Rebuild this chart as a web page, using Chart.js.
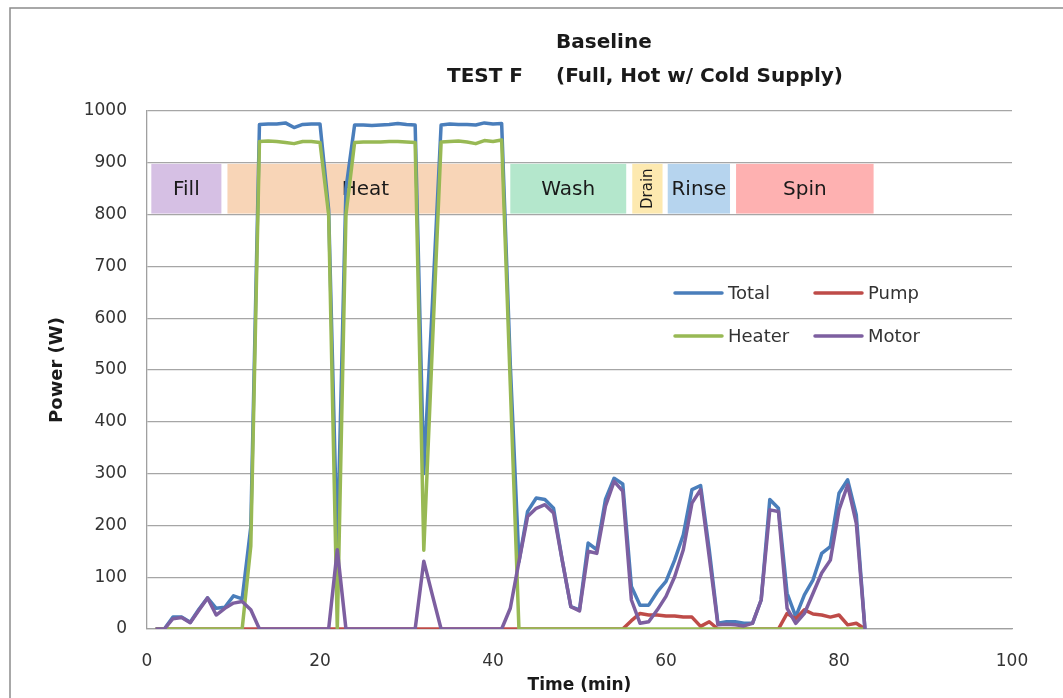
<!DOCTYPE html>
<html>
<head>
<meta charset="utf-8">
<script src="https://cdn.jsdelivr.net/npm/chart.js@4"></script>
<style>
  html, body { margin: 0; padding: 0; background: #fff; overflow: hidden; }
  #wrap { position: relative; width: 1063px; height: 698px; }
</style>
</head>
<body>
<div id="wrap"><canvas id="chart"></canvas></div>
<script>
// time in minutes
const times = [
  1, 2, 3, 4, 5, 6, 7, 8, 9, 10, 11, 12, 13, 14, 15, 16, 17, 18, 19, 20,
  21, 22, 23, 24, 25, 26, 27, 28, 29, 30, 31, 32, 33, 34, 35, 36, 37, 38, 39, 40,
  41, 42, 43, 44, 45, 46, 47, 48, 49, 50, 51, 52, 53, 54, 55, 56, 57, 58, 59, 60,
  61, 62, 63, 64, 65, 66, 67, 68, 69, 70, 71, 72, 73, 74, 75, 76, 77, 78, 79, 80,
  81, 82, 83
];

const total = [
  0, 0, 23, 23, 13, 38, 60, 40, 42, 64, 58, 197, 974, 975, 975, 977, 968, 974, 975, 975,
  810, 153, 850, 973, 973, 972, 973, 974, 976, 974, 973, 300, 630, 973, 975, 974, 974, 973, 977, 975,
  976, 510, 130, 227, 253, 250, 233, 133, 43, 37, 166, 153, 250, 291, 280, 82, 46, 46, 72, 92,
  133, 182, 269, 277, 153, 11, 14, 14, 11, 11, 56, 250, 233, 69, 24, 66, 95, 146, 159, 262,
  288, 220, 0
];

const pump = [
  0, 0, 0, 0, 0, 0, 0, 0, 0, 0, 0, 0, 0, 0, 0, 0, 0, 0, 0, 0,
  0, 0, 0, 0, 0, 0, 0, 0, 0, 0, 0, 0, 0, 0, 0, 0, 0, 0, 0, 0,
  0, 0, 0, 0, 0, 0, 0, 0, 0, 0, 0, 0, 0, 0, 0, 16, 30, 27, 27, 25,
  25, 23, 23, 5, 14, 0, 0, 0, 0, 0, 0, 0, 0, 30, 20, 37, 29, 27, 23, 27,
  8, 11, 0
];

const heater = [
  0, 0, 0, 0, 0, 0, 0, 0, 0, 0, 0, 160, 941, 942, 941, 939, 937, 941, 941, 939,
  800, 0, 800, 939, 940, 940, 940, 941, 941, 940, 939, 152, 550, 940, 941, 942, 940, 937, 943, 941,
  944, 470, 0, 0, 0, 0, 0, 0, 0, 0, 0, 0, 0, 0, 0, 0, 0, 0, 0, 0,
  0, 0, 0, 0, 0, 0, 0, 0, 0, 0, 0, 0, 0, 0, 0, 0, 0, 0, 0, 0,
  0, 0, 0
];

const motor = [
  0, 0, 20, 22, 12, 36, 60, 27, 40, 50, 53, 37, 0, 0, 0, 0, 0, 0, 0, 0,
  0, 153, 0, 0, 0, 0, 0, 0, 0, 0, 0, 131, 65, 0, 0, 0, 0, 0, 0, 0,
  0, 40, 130, 217, 233, 240, 224, 133, 43, 35, 150, 146, 237, 285, 266, 56, 11, 14, 37, 63,
  101, 153, 243, 269, 139, 8, 9, 8, 6, 11, 56, 230, 227, 40, 11, 30, 69, 108, 133, 230,
  278, 204, 0
];

// cycle phases (minutes)
const phaseNames = ["Fill", "Heat", "Wash", "Drain", "Rinse", "Spin"];
const phaseStart = [0.5, 9.3, 42.0, 56.1, 60.2, 68.1];
const phaseEnd = [8.6, 41.2, 55.4, 59.6, 67.4, 84.0];
const phaseColors = ["#d6c0e4", "#f8d5b7", "#b4e7cc", "#fde9b0", "#b6d4ee", "#feb1b1"];
const phaseLow = 802;
const phaseHigh = 898;

const xTicks = [0, 20, 40, 60, 80, 100];

const FONT = "'DejaVu Sans', sans-serif";
const TEXT = "#333333";

function pts(values) {
  return times.map((t, i) => ({ x: t, y: values[i] }));
}

// frame + background
const framePlugin = {
  id: "frame",
  beforeDraw(chart) {
    const ctx = chart.ctx;
    ctx.save();
    ctx.fillStyle = "#ffffff";
    ctx.fillRect(0, 0, chart.width, chart.height);
    ctx.strokeStyle = "#8c8c8c";
    ctx.lineWidth = 1.5;
    ctx.beginPath();
    ctx.moveTo(10, chart.height + 2);
    ctx.lineTo(10, 8);
    ctx.lineTo(chart.width + 2, 8);
    ctx.stroke();
    ctx.restore();
  }
};

// two-line title, second line tab aligned
const titlePlugin = {
  id: "titles",
  afterDraw(chart) {
    const ctx = chart.ctx;
    ctx.save();
    ctx.fillStyle = "#1a1a1a";
    ctx.font = "bold 20px " + FONT;
    ctx.textBaseline = "middle";
    ctx.textAlign = "left";
    ctx.fillText("Baseline", 556, 43);
    ctx.fillText("(Full, Hot w/ Cold Supply)", 556, 77);
    ctx.textAlign = "right";
    ctx.fillText("TEST F", 523, 77);
    ctx.restore();
  }
};

// phase boxes between 800 and 900 W
const phasePlugin = {
  id: "phases",
  beforeDatasetsDraw(chart) {
    const { ctx, scales: { x, y } } = chart;
    const top = y.getPixelForValue(phaseHigh);
    const bottom = y.getPixelForValue(phaseLow);
    ctx.save();
    phaseNames.forEach((name, i) => {
      const left = x.getPixelForValue(phaseStart[i]);
      const right = x.getPixelForValue(phaseEnd[i]);
      ctx.fillStyle = phaseColors[i];
      ctx.fillRect(left, top, right - left, bottom - top);
      ctx.fillStyle = "#1a1a1a";
      ctx.textAlign = "center";
      ctx.textBaseline = "middle";
      const cx = (left + right) / 2;
      const cy = (top + bottom) / 2;
      if (name === "Drain") {
        ctx.save();
        ctx.translate(cx, cy);
        ctx.rotate(-Math.PI / 2);
        ctx.font = "15px " + FONT;
        ctx.fillText(name, 0, 1);
        ctx.restore();
      } else {
        ctx.font = "20px " + FONT;
        ctx.fillText(name, cx, cy + 1);
      }
    });
    ctx.restore();
  }
};

// legend in two columns inside the plot
const legendPlugin = {
  id: "gridLegend",
  afterDatasetsDraw(chart) {
    const ctx = chart.ctx;
    const cols = [675, 815];
    const rows = [293, 336];
    const layout = [[0, 0, 0], [1, 1, 0], [2, 0, 1], [3, 1, 1]];
    ctx.save();
    ctx.font = "18px " + FONT;
    ctx.textBaseline = "middle";
    ctx.textAlign = "left";
    layout.forEach(([di, c, r]) => {
      const ds = chart.data.datasets[di];
      const lx = cols[c];
      const ly = rows[r];
      ctx.strokeStyle = ds.borderColor;
      ctx.lineWidth = 3.5;
      ctx.lineCap = "round";
      ctx.beginPath();
      ctx.moveTo(lx, ly);
      ctx.lineTo(lx + 47, ly);
      ctx.stroke();
      ctx.fillStyle = TEXT;
      ctx.fillText(ds.label, lx + 53, ly + 1);
    });
    ctx.restore();
  }
};

const mkSet = (label, data, color, order) => ({
  label: label,
  data: pts(data),
  borderColor: color,
  backgroundColor: color,
  borderWidth: 3.5,
  pointRadius: 0,
  tension: 0,
  fill: false,
  order: order,
  borderJoinStyle: "round"
});

new Chart(document.getElementById("chart"), {
  type: "line",
  data: {
    datasets: [
      mkSet("Total", total, "#4a7ebb", 4),
      mkSet("Pump", pump, "#be4b48", 3),
      mkSet("Heater", heater, "#98b954", 2),
      mkSet("Motor", motor, "#7d5fa0", 1)
    ]
  },
  options: {
    responsive: true,
    maintainAspectRatio: false,
    animation: false,
    layout: { padding: { left: 0, right: 51, top: 111, bottom: 0 } },
    plugins: {
      legend: { display: false },
      tooltip: { enabled: false },
      title: { display: false }
    },
    scales: {
      x: {
        type: "linear",
        min: 0,
        max: 100,
        afterFit(scale) { scale.height = 69; },
        afterBuildTicks(scale) { scale.ticks = xTicks.map(v => ({ value: v })); },
        grid: { display: false, drawTicks: false },
        border: { display: true, color: "#a0a0a0", width: 1.3 },
        ticks: {
          padding: 22,
          color: TEXT,
          font: { family: FONT, size: 17 },
          callback: v => String(v)
        },
        title: {
          display: true,
          text: "Time (min)",
          color: "#1a1a1a",
          font: { family: FONT, size: 17, weight: "bold" },
          padding: { top: 0, bottom: 2 }
        }
      },
      y: {
        min: 0,
        max: 1000,
        afterFit(scale) { scale.width = 147; },
        ticks: {
          stepSize: 100,
          padding: 20,
          color: TEXT,
          font: { family: FONT, size: 17 },
          callback: v => String(v)
        },
        grid: { color: "#a6a6a6", lineWidth: 1.3, drawTicks: false },
        border: { display: true, color: "#a0a0a0", width: 1.3 },
        title: {
          display: true,
          text: "Power (W)",
          color: "#1a1a1a",
          font: { family: FONT, size: 18, weight: "bold" },
          padding: { top: 47, bottom: 0 }
        }
      }
    }
  },
  plugins: [framePlugin, phasePlugin, legendPlugin, titlePlugin]
});
</script>
</body>
</html>
